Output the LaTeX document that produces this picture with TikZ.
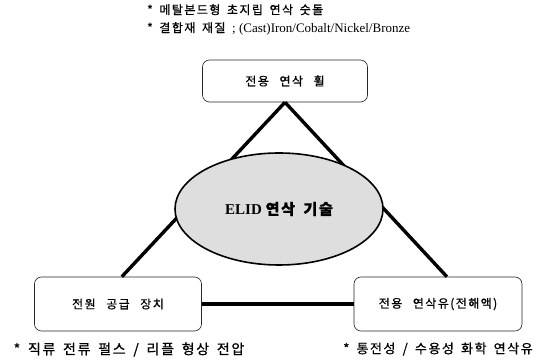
\documentclass[tikz,border=0pt]{standalone}
\usepackage{fontspec}
\setmainfont{Liberation Serif}
\newfontfamily\kr[LetterSpace=12,FakeBold=0.8]{Noto Sans CJK KR}
\newfontfamily\krnote[LetterSpace=12,FakeBold=0.8,WordSpace=1.6]{Noto Sans CJK KR}
\usetikzlibrary{positioning,shapes.geometric}
\tikzset{
  unit/.style={rectangle, rounded corners=7pt, draw=black!85, semithick, fill=white, font=\kr\fontsize{12}{14}\selectfont},
  core/.style={ellipse, draw=black, line width=1.6pt, fill=black!13, minimum width=208pt, minimum height=112pt},
  link/.style={line width=3.4pt},
  note/.style={font=\krnote\fontsize{13}{18}\selectfont, inner sep=0pt}
}

\begin{document}
\begin{tikzpicture}[x=1pt,y=-1pt]
  \useasboundingbox (0,0) rectangle (542,363);
  \node[note, font=\krnote\fontsize{12}{18}\selectfont, anchor=north west, align=left] (wheelnote) at (147,4)
    {* 메탈본드형 초지립 연삭 숫돌\\* 결합재 재질 {\rmfamily\fontsize{13}{14}\selectfont; (Cast)Iron/Cobalt/Nickel/Bronze}};
  \node[unit, minimum width=165pt, minimum height=42pt] (wheel) at (285,81) {전용 연삭 휠};
  \node[unit, minimum width=167pt, minimum height=54pt] (pwr) at (118,304) {전원 공급 장치};
  \node[unit, minimum width=168pt, minimum height=54pt] (fluid) at (438,304) {전용 연삭유(전해액)};
  \node[note, font=\krnote\fontsize{14}{18}\selectfont, below=11pt of pwr, xshift=11pt] (pwrnote) {* 직류 전류 펄스 / 리플 형상 전압};
  \node[note, below=11pt of fluid] (fluidnote) {* 통전성 / 수용성 화학 연삭유};

  \draw[link] (wheel.south) -- (pwr.82);
  \draw[link] (wheel.south) -- (fluid.72);
  \draw[link] (pwr.east) -- (fluid.west);

  % core technology in the middle
  \node[core] (elid) at (279,209) {\fontsize{15}{17}\selectfont\bfseries ELID {\kr 연삭 기술}};
\end{tikzpicture}
\end{document}
